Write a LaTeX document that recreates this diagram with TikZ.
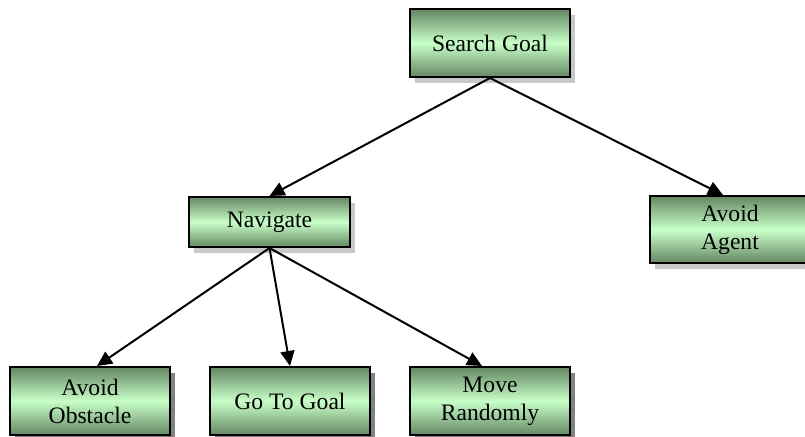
\documentclass[tikz,border=0pt]{standalone}
\usepackage{fontspec}
\setmainfont{Liberation Serif}
\usetikzlibrary{arrows.meta,shadows}
\definecolor{gdark}{RGB}{100,135,100}
\definecolor{glight}{RGB}{200,255,200}
\definecolor{shadelight}{RGB}{200,200,200}
\definecolor{shadedark}{RGB}{130,130,130}
\tikzset{
  box/.style={draw=black, line width=2pt, minimum width=160pt, minimum height=68pt,
    inner sep=0pt, align=center, top color=gdark, bottom color=gdark, middle color=glight,
    font=\fontsize{23.6}{28}\selectfont},
  twoline/.style={text depth=8pt},
  lightshadow/.style={drop shadow={shadow xshift=5pt, shadow yshift=-6pt, fill=shadelight, opacity=1}},
  darkshadow/.style={drop shadow={shadow xshift=5pt, shadow yshift=-6pt, fill=shadedark, opacity=1}},
  conn/.style={line width=2pt, -{Triangle[length=15pt,width=14pt]}}
}
\begin{document}
\begin{tikzpicture}[x=1pt,y=-1pt]
\useasboundingbox (0,0) rectangle (805,436);
\clip (0,0) rectangle (805,436);
\node[box, lightshadow] (sg) at (490,43) {Search Goal};
\node[box, lightshadow, minimum width=161pt, minimum height=50pt] (nav) at (269.5,222) {Navigate};
\node[box, lightshadow, minimum height=67pt] (aa) at (730,229.5) {Avoid\\Agent};
\node[box, darkshadow] (ao) at (90,401) {Avoid\\Obstacle};
\node[box, darkshadow] (gg) at (290,401) {Go To Goal};
\node[box, darkshadow] (mr) at (490,401) {Move\\Randomly};
\coordinate (aaT) at ([xshift=-7pt]aa.north);
\coordinate (aoT) at ([xshift=7pt]ao.north);
\coordinate (mrT) at ([xshift=-8pt]mr.north);
\draw[conn] (sg.south) -- (nav.north);
\draw[conn] (sg.south) -- (aaT);
\draw[conn] (nav.south) -- (aoT);
\draw[conn] (nav.south) -- (gg.north);
\draw[conn] (nav.south) -- (mrT);
\end{tikzpicture}
\end{document}
